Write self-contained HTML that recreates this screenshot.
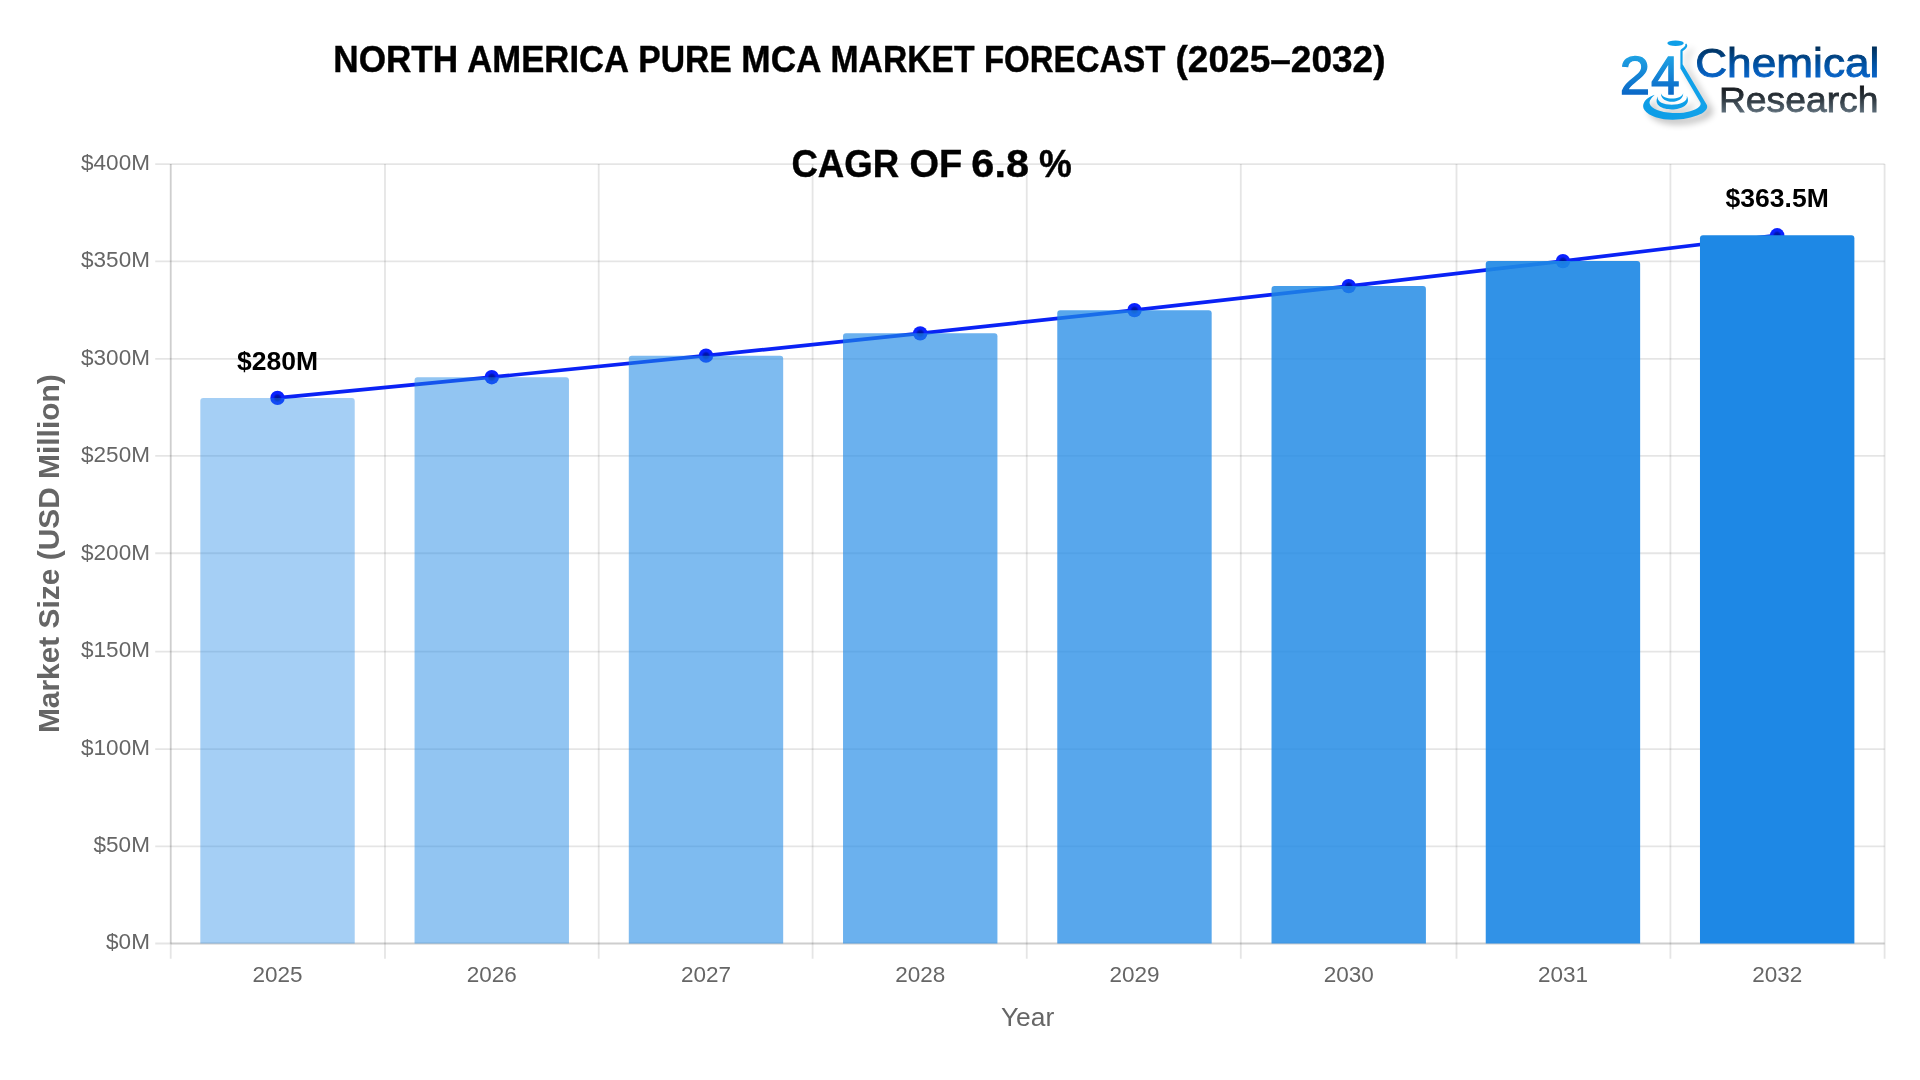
<!DOCTYPE html>
<html lang="en">
<head>
<meta charset="utf-8">
<title>North America Pure MCA Market Forecast (2025-2032)</title>
<style>
html,body{margin:0;padding:0;background:#fff;}
body{width:1920px;height:1080px;position:relative;overflow:hidden;font-family:"Liberation Sans",sans-serif;}
#chart{position:absolute;left:0;top:0;filter:blur(0.6px);}
#logo{position:absolute;left:0;top:0;filter:blur(0.45px);}
#titles{will-change:transform;opacity:0.999;}
.title{position:absolute;left:0;top:0;white-space:nowrap;font-weight:bold;color:#000;line-height:1;}
#t1{font-size:34.5px;left:335.4px;top:40px;}
#t2{font-size:37.7px;left:792.7px;top:143px;}
</style>
</head>
<body>
<svg id="chart" width="1920" height="1080" viewBox="0 0 1920 1080">
<defs><radialGradient id="pt"><stop offset="0" stop-color="#001496"/><stop offset="0.35" stop-color="#0016b4"/><stop offset="0.62" stop-color="#0a22ff"/><stop offset="1" stop-color="#0a22ff"/></radialGradient></defs>
<g stroke="rgba(0,0,0,0.1)" stroke-width="1.85" fill="none">
<line x1="155.2" y1="164.10" x2="1884.6" y2="164.10"/>
<line x1="155.2" y1="261.40" x2="1884.6" y2="261.40"/>
<line x1="155.2" y1="358.80" x2="1884.6" y2="358.80"/>
<line x1="155.2" y1="455.90" x2="1884.6" y2="455.90"/>
<line x1="155.2" y1="553.20" x2="1884.6" y2="553.20"/>
<line x1="155.2" y1="651.60" x2="1884.6" y2="651.60"/>
<line x1="155.2" y1="749.10" x2="1884.6" y2="749.10"/>
<line x1="155.2" y1="846.30" x2="1884.6" y2="846.30"/>
<line x1="155.2" y1="943.45" x2="1884.6" y2="943.45"/>
<line x1="170.70" y1="164.1" x2="170.70" y2="958.7"/>
<line x1="385.00" y1="164.1" x2="385.00" y2="958.7"/>
<line x1="598.70" y1="164.1" x2="598.70" y2="958.7"/>
<line x1="812.60" y1="164.1" x2="812.60" y2="958.7"/>
<line x1="1026.75" y1="164.1" x2="1026.75" y2="958.7"/>
<line x1="1240.80" y1="164.1" x2="1240.80" y2="958.7"/>
<line x1="1456.50" y1="164.1" x2="1456.50" y2="958.7"/>
<line x1="1670.40" y1="164.1" x2="1670.40" y2="958.7"/>
<line x1="1884.60" y1="164.1" x2="1884.60" y2="958.7"/>
<line x1="170.7" y1="164.1" x2="170.7" y2="943.5"/>
<line x1="170.7" y1="943.5" x2="1884.6" y2="943.5"/>
</g>
<polyline points="277.52,397.92 491.76,377.19 705.99,355.67 920.23,333.33 1134.47,310.14 1348.71,286.08 1562.94,261.09 1777.18,235.22" fill="none" stroke="#0a22f5" stroke-width="3.7" stroke-linejoin="round"/>
<circle cx="277.52" cy="397.92" r="7.2" fill="url(#pt)"/>
<circle cx="491.76" cy="377.19" r="7.2" fill="url(#pt)"/>
<circle cx="705.99" cy="355.67" r="7.2" fill="url(#pt)"/>
<circle cx="920.23" cy="333.33" r="7.2" fill="url(#pt)"/>
<circle cx="1134.47" cy="310.14" r="7.2" fill="url(#pt)"/>
<circle cx="1348.71" cy="286.08" r="7.2" fill="url(#pt)"/>
<circle cx="1562.94" cy="261.09" r="7.2" fill="url(#pt)"/>
<circle cx="1777.18" cy="235.22" r="7.2" fill="url(#pt)"/>
<path d="M200.32,943.5 L200.32,400.92 Q200.32,397.92 203.32,397.92 L351.72,397.92 Q354.72,397.92 354.72,400.92 L354.72,943.5 Z" fill="rgba(30,136,229,0.400)"/>
<path d="M414.56,943.5 L414.56,380.19 Q414.56,377.19 417.56,377.19 L565.96,377.19 Q568.96,377.19 568.96,380.19 L568.96,943.5 Z" fill="rgba(30,136,229,0.486)"/>
<path d="M628.79,943.5 L628.79,358.67 Q628.79,355.67 631.79,355.67 L780.19,355.67 Q783.19,355.67 783.19,358.67 L783.19,943.5 Z" fill="rgba(30,136,229,0.571)"/>
<path d="M843.03,943.5 L843.03,336.33 Q843.03,333.33 846.03,333.33 L994.43,333.33 Q997.43,333.33 997.43,336.33 L997.43,943.5 Z" fill="rgba(30,136,229,0.657)"/>
<path d="M1057.27,943.5 L1057.27,313.14 Q1057.27,310.14 1060.27,310.14 L1208.67,310.14 Q1211.67,310.14 1211.67,313.14 L1211.67,943.5 Z" fill="rgba(30,136,229,0.743)"/>
<path d="M1271.51,943.5 L1271.51,289.08 Q1271.51,286.08 1274.51,286.08 L1422.91,286.08 Q1425.91,286.08 1425.91,289.08 L1425.91,943.5 Z" fill="rgba(30,136,229,0.829)"/>
<path d="M1485.74,943.5 L1485.74,264.09 Q1485.74,261.09 1488.74,261.09 L1637.14,261.09 Q1640.14,261.09 1640.14,264.09 L1640.14,943.5 Z" fill="rgba(30,136,229,0.914)"/>
<path d="M1699.98,943.5 L1699.98,238.22 Q1699.98,235.22 1702.98,235.22 L1851.38,235.22 Q1854.38,235.22 1854.38,238.22 L1854.38,943.5 Z" fill="rgba(30,136,229,1.000)"/>
<g font-family="Liberation Sans, sans-serif" font-size="22.5" fill="#666">
<text x="149.9" y="949.40" text-anchor="end">$0M</text>
<text x="149.9" y="851.98" text-anchor="end">$50M</text>
<text x="149.9" y="754.55" text-anchor="end">$100M</text>
<text x="149.9" y="657.12" text-anchor="end">$150M</text>
<text x="149.9" y="559.70" text-anchor="end">$200M</text>
<text x="149.9" y="462.27" text-anchor="end">$250M</text>
<text x="149.9" y="364.85" text-anchor="end">$300M</text>
<text x="149.9" y="267.42" text-anchor="end">$350M</text>
<text x="149.9" y="170.00" text-anchor="end">$400M</text>
<text x="277.52" y="982.4" text-anchor="middle">2025</text>
<text x="491.76" y="982.4" text-anchor="middle">2026</text>
<text x="705.99" y="982.4" text-anchor="middle">2027</text>
<text x="920.23" y="982.4" text-anchor="middle">2028</text>
<text x="1134.47" y="982.4" text-anchor="middle">2029</text>
<text x="1348.71" y="982.4" text-anchor="middle">2030</text>
<text x="1562.94" y="982.4" text-anchor="middle">2031</text>
<text x="1777.18" y="982.4" text-anchor="middle">2032</text>
</g>
<text x="1027.6" y="1026.3" text-anchor="middle" font-family="Liberation Sans, sans-serif" font-size="26.4" fill="#666">Year</text>
<text transform="translate(58.8,553.7) rotate(-90)" text-anchor="middle" font-family="Liberation Sans, sans-serif" font-weight="bold" font-size="29.9" fill="#666">Market Size (USD Million)</text>
<g font-family="Liberation Sans, sans-serif" font-weight="bold" font-size="26.5" fill="#000" text-anchor="middle">
<text x="277.52" y="369.72">$280M</text>
<text x="1777.18" y="207.02">$363.5M</text>
</g>
</svg>
<svg id="logo" width="1920" height="1080" viewBox="0 0 1920 1080">
<defs>
<linearGradient id="g24" gradientUnits="userSpaceOnUse" x1="0" y1="-38" x2="0" y2="1"><stop offset="0" stop-color="#1ea2e4"/><stop offset="1" stop-color="#0a66c6"/></linearGradient>
<linearGradient id="gch" gradientUnits="userSpaceOnUse" x1="0" y1="-30" x2="0" y2="1"><stop offset="0" stop-color="#00305c"/><stop offset="0.55" stop-color="#0052a4"/><stop offset="1" stop-color="#0a66cc"/></linearGradient>
<linearGradient id="gre" gradientUnits="userSpaceOnUse" x1="0" y1="-26" x2="0" y2="1"><stop offset="0" stop-color="#14161a"/><stop offset="0.5" stop-color="#2e3840"/><stop offset="1" stop-color="#5e6e7a"/></linearGradient>
<linearGradient id="gfl" gradientUnits="userSpaceOnUse" x1="1642" y1="0" x2="1708" y2="0"><stop offset="0" stop-color="#0c9ce6"/><stop offset="1" stop-color="#12a2ea"/></linearGradient>
<filter id="sh" x="-30%" y="-30%" width="170%" height="170%"><feGaussianBlur stdDeviation="3.6"/></filter>
</defs>
<g id="flaskshadow" filter="url(#sh)" opacity="0.27" transform="translate(5.5,4.5)" fill="#000">
<path d="M1686.2,43.6 C1688.6,46.0 1686.6,48.8 1682.6,51.2 L1682.6,64.2 L1706.6,104.4 C1708.6,108 1705.5,111.8 1700,114.3 C1690,119 1676,120.6 1664,119.2 C1652,117.4 1643,112 1643.1,106 C1643.4,101 1648,97 1654.7,94.8 C1651.4,98 1648.8,101 1649.8,104 C1651.4,108.8 1660,112.3 1672.5,113 C1685,113.6 1695,110.8 1699.4,106.4 C1701.1,104.6 1700.9,103.2 1700.1,101.9 L1680.4,68.5 L1680.4,50.6 C1680.6,49.4 1682.2,48.6 1683.6,47.4 C1685.2,46.0 1685.6,45.0 1685.2,44.2 Z"/>
<path d="M1657.8,96.6 C1648.6,114.2 1696.0,113.7 1686.8,95.8 C1689.4,107.4 1655.2,107.9 1657.8,96.6 Z"/>
</g>
<g fill="url(#gfl)">
<ellipse cx="1675.55" cy="43.25" rx="8.2" ry="2.7"/>
<path d="M1686.2,43.6 C1688.6,46.0 1686.6,48.8 1682.6,51.2 L1682.6,64.2 L1706.6,104.4 C1708.6,108 1705.5,111.8 1700,114.3 C1690,119 1676,120.6 1664,119.2 C1652,117.4 1643,112 1643.1,106 C1643.4,101 1648,97 1654.7,94.8 C1651.4,98 1648.8,101 1649.8,104 C1651.4,108.8 1660,112.3 1672.5,113 C1685,113.6 1695,110.8 1699.4,106.4 C1701.1,104.6 1700.9,103.2 1700.1,101.9 L1680.4,68.5 L1680.4,50.6 C1680.6,49.4 1682.2,48.6 1683.6,47.4 C1685.2,46.0 1685.6,45.0 1685.2,44.2 Z"/>
<path d="M1660.9,93.2 C1660.6,104.6 1683.4,104.6 1683.2,93.2 C1681.4,100.2 1662.7,100.2 1660.9,93.2 Z"/>
<path d="M1657.8,96.6 C1648.6,114.2 1696.0,113.7 1686.8,95.8 C1689.4,107.4 1655.2,107.9 1657.8,96.6 Z"/>
</g>
<text transform="translate(1619.8,93.9) scale(1.03,1)" font-family="Liberation Sans, sans-serif" font-size="53" fill="url(#g24)" stroke="url(#g24)" stroke-width="1.3">2</text>
<text transform="translate(1651.1,93.9) scale(0.972,1)" font-family="Liberation Sans, sans-serif" font-size="53" fill="url(#g24)" stroke="url(#g24)" stroke-width="1.3">4</text>
<text transform="translate(1695.2,77.4) scale(1.0995,1)" font-family="Liberation Sans, sans-serif" font-size="40.2" fill="url(#gch)" stroke="url(#gch)" stroke-width="0.9">Chemical</text>
<text transform="translate(1718.9,111.9) scale(1.053,1)" font-family="Liberation Sans, sans-serif" font-size="35.4" fill="url(#gre)" stroke="url(#gre)" stroke-width="0.8">Research</text>
</svg>

<svg id="titles" width="1920" height="1080" viewBox="0 0 1920 1080" style="position:absolute;left:0;top:0">
<g font-family="Liberation Sans, sans-serif" font-weight="bold" fill="#000" stroke="#000" stroke-width="0.4">
<text transform="translate(333.32,71.6) scale(1.0114,1.038)" font-size="34.72">NORTH</text>
<text transform="translate(467.30,71.6) scale(0.9994,1.038)" font-size="34.72">AMERICA</text>
<text transform="translate(638.27,71.6) scale(0.9698,1.038)" font-size="34.72">PURE</text>
<text transform="translate(741.32,71.6) scale(1.0139,1.038)" font-size="34.72">MCA</text>
<text transform="translate(830.52,71.6) scale(0.9705,1.038)" font-size="34.72">MARKET</text>
<text transform="translate(983.96,71.6) scale(0.9509,1.038)" font-size="34.72">FORECAST</text>
<text transform="translate(1175.53,71.6) scale(1.0667,1.038)" font-size="34.72">(2025–2032)</text>
<text transform="translate(791.44,177.3) scale(0.9701,1.03)" font-size="37.75">CAGR</text>
<text transform="translate(909.59,177.3) scale(1.0061,1.03)" font-size="37.75">OF</text>
<text transform="translate(971.35,177.3) scale(1.0975,1.03)" font-size="37.75">6.8</text>
<text transform="translate(1039.12,177.3) scale(0.9778,1.03)" font-size="37.75">%</text>
</g>
</svg>
</body>
</html>
